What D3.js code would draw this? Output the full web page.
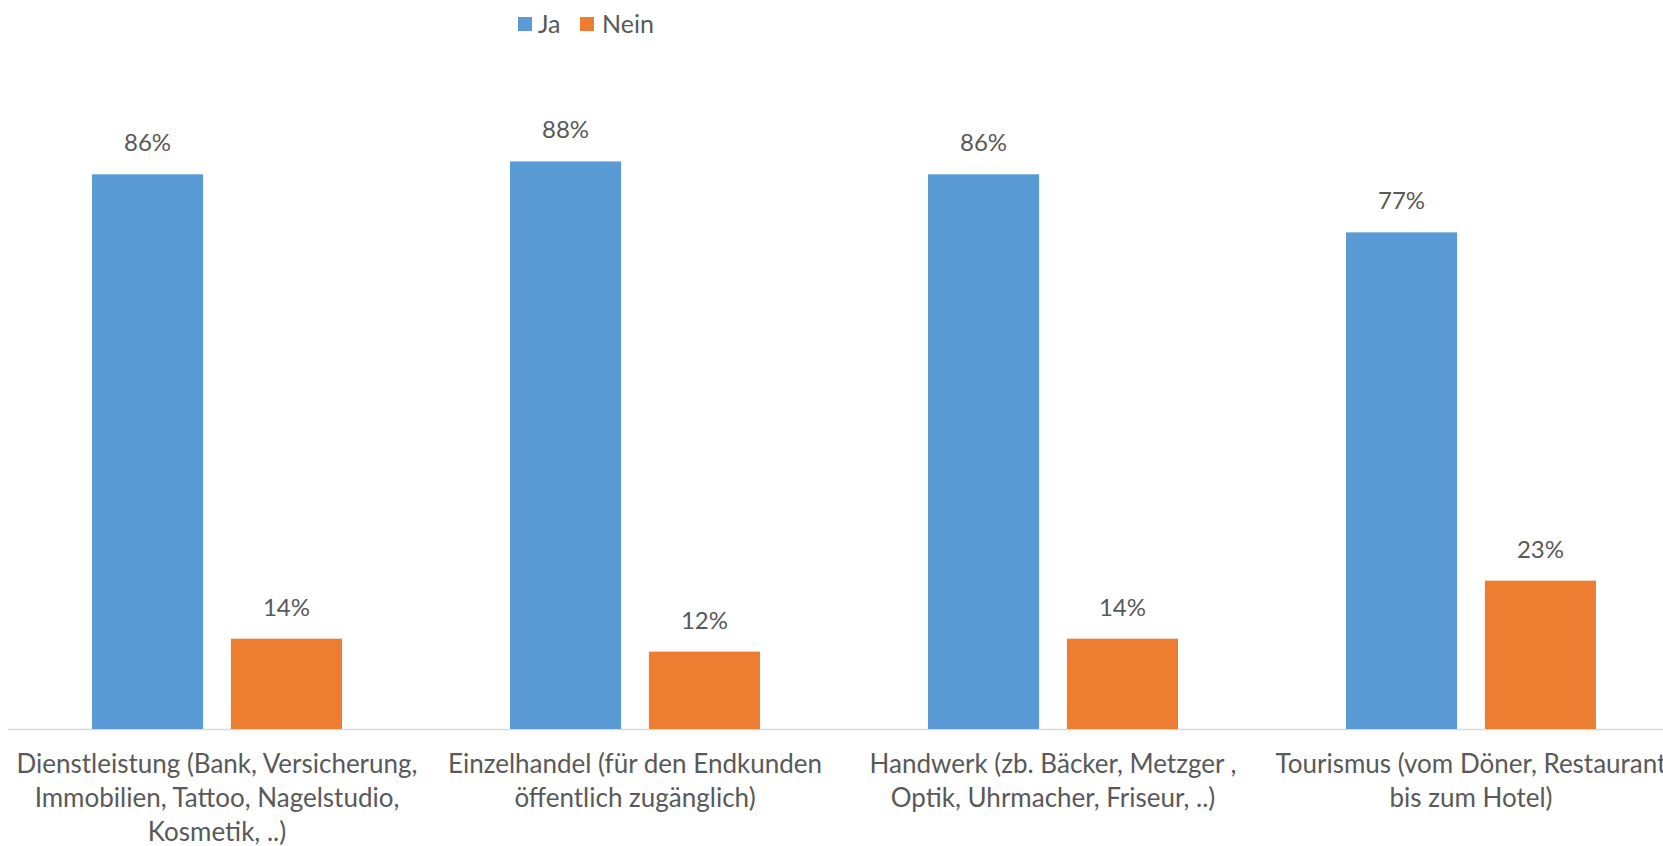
<!DOCTYPE html>
<html>
<head>
<meta charset="utf-8">
<script src="https://cdn.jsdelivr.net/npm/d3@7"></script>
<style>
  html, body { margin: 0; padding: 0; background: #fff; }
  svg { display: block; }
  text { font-family: Lato, "Open Sans", sans-serif; fill: #595959; }
</style>
</head>
<body>
<svg id="chart" width="1663" height="846"></svg>
<script>
// Survey answers per sector, share of respondents
const categories = [
  ["Dienstleistung (Bank, Versicherung,", "Immobilien, Tattoo, Nagelstudio,", "Kosmetik, ..)"],
  ["Einzelhandel (für den Endkunden", "öffentlich zugänglich)"],
  ["Handwerk (zb. Bäcker, Metzger ,", "Optik, Uhrmacher, Friseur, ..)"],
  ["Tourismus (vom Döner, Restaurant", "bis zum Hotel)"]
];
const seriesNames = ["Ja", "Nein"];
const jaValues = [0.86, 0.88, 0.86, 0.77];
const neinValues = [0.14, 0.12, 0.14, 0.23];
const colors = ["#5B9BD5", "#ED7D31"];

const svg = d3.select("#chart");
const W = 1663, H = 846;
const plotLeft = 8, plotRight = 1680, baseline = 729, plotTop = 84;

const x0 = d3.scaleBand()
  .domain(d3.range(categories.length))
  .range([plotLeft, plotRight])
  .paddingInner(0)
  .paddingOuter(0);

const groupInset = 84;
const x1 = d3.scaleBand()
  .domain(seriesNames)
  .range([groupInset, x0.bandwidth() - groupInset])
  .paddingInner(0.2);

const y = d3.scaleLinear().domain([0, 1]).range([baseline, plotTop]);

const pct = d3.format(".0%");

const rows = categories.map((c, i) => ({
  i,
  values: [
    { key: "Ja", v: jaValues[i] },
    { key: "Nein", v: neinValues[i] }
  ]
}));

// horizontal category axis line
svg.append("line")
  .attr("x1", plotLeft).attr("x2", W)
  .attr("y1", baseline + 0.5).attr("y2", baseline + 0.5)
  .attr("stroke", "#d9d9d9").attr("stroke-width", 1.5);

const groups = svg.selectAll("g.cat")
  .data(rows)
  .join("g")
  .attr("class", "cat")
  .attr("transform", d => `translate(${x0(d.i)},0)`);

groups.selectAll("rect")
  .data(d => d.values)
  .join("rect")
  .attr("x", d => x1(d.key))
  .attr("width", x1.bandwidth())
  .attr("y", d => y(d.v))
  .attr("height", d => baseline - y(d.v))
  .attr("fill", (d, j) => colors[j]);

groups.selectAll("text.val")
  .data(d => d.values)
  .join("text")
  .attr("class", "val")
  .attr("x", d => x1(d.key) + x1.bandwidth() / 2)
  .attr("y", d => y(d.v) - 23)
  .attr("text-anchor", "middle")
  .attr("font-size", 24)
  .text(d => pct(d.v));

// category labels, wrapped over several lines
groups.append("text")
  .attr("class", "cat-label")
  .attr("text-anchor", "middle")
  .attr("font-size", 26)
  .selectAll("tspan")
  .data(d => categories[d.i])
  .join("tspan")
  .attr("x", x0.bandwidth() / 2)
  .attr("y", (d, k) => 773 + k * 33.8)
  .text(d => d);

// legend
const legend = svg.append("g").attr("transform", "translate(518,0)");
const legendItems = [
  { name: seriesNames[0], color: colors[0], x: 0, tx: 20 },
  { name: seriesNames[1], color: colors[1], x: 62, tx: 84 }
];
legend.selectAll("rect")
  .data(legendItems)
  .join("rect")
  .attr("x", d => d.x).attr("y", 17)
  .attr("width", 14).attr("height", 14)
  .attr("fill", d => d.color);
legend.selectAll("text")
  .data(legendItems)
  .join("text")
  .attr("x", d => d.tx).attr("y", 33)
  .attr("font-size", 25)
  .text(d => d.name);
</script>
</body>
</html>
